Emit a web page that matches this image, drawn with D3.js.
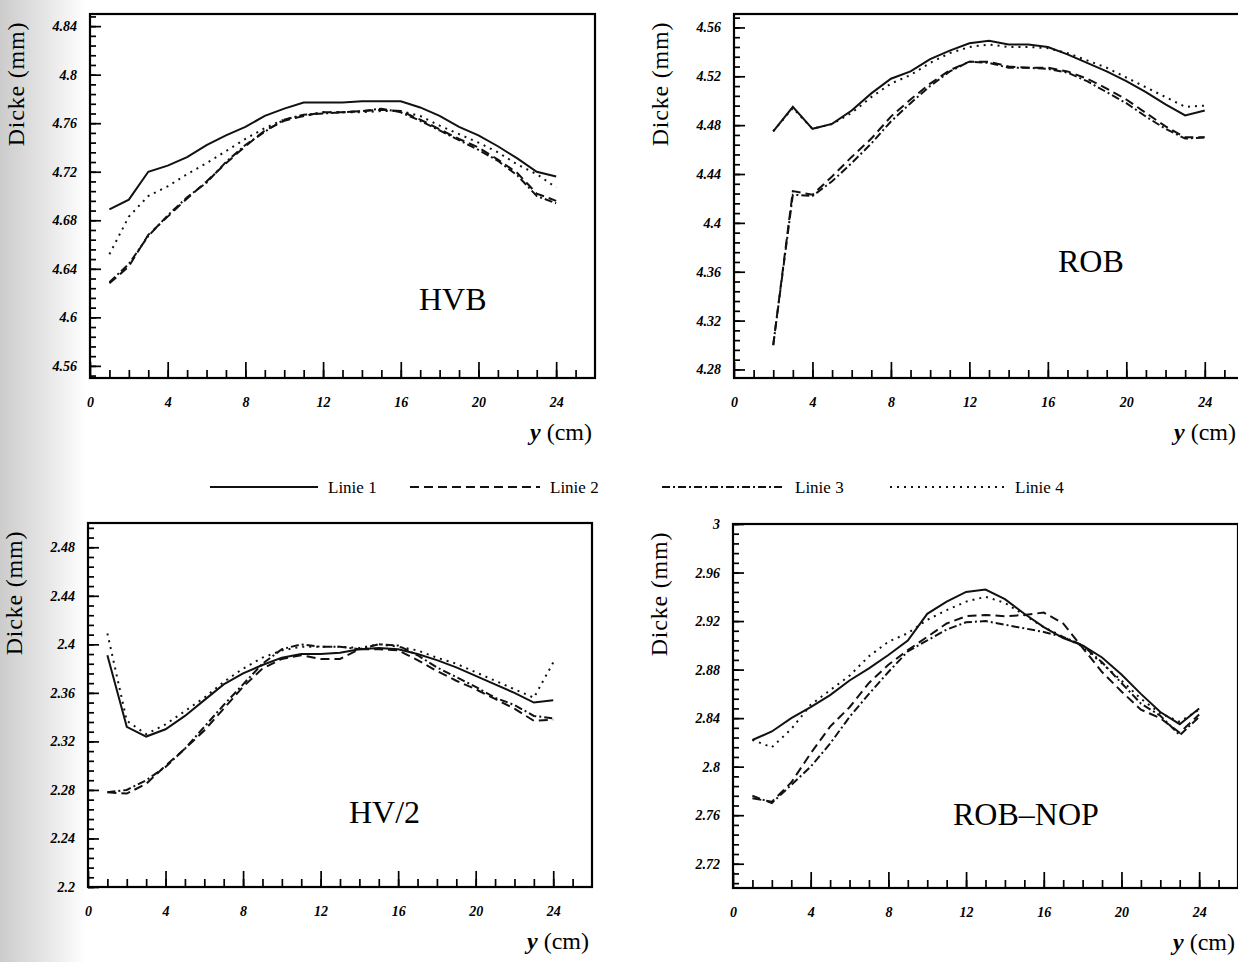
<!DOCTYPE html>
<html>
<head>
<meta charset="utf-8">
<script src="https://cdn.jsdelivr.net/npm/d3@7"></script>
<style>
  body { margin: 0; background: #fff; }
  svg { display: block; }
</style>
</head>
<body>
<svg id="chart" width="1238" height="962"></svg>
<script>
// x positions (cm) of the measuring points
const yPos = d3.range(1, 25);      // 1..24
const yPosRob = d3.range(2, 25);   // ROB starts at 2

// HVB
const hvbLinie1 = [4.689, 4.697, 4.720, 4.725, 4.732, 4.742, 4.750, 4.757, 4.766, 4.772, 4.777, 4.777, 4.777, 4.778, 4.778, 4.778, 4.773, 4.766, 4.757, 4.750, 4.741, 4.731, 4.720, 4.716];
const hvbLinie2 = [4.628, 4.642, 4.668, 4.683, 4.698, 4.712, 4.727, 4.741, 4.754, 4.762, 4.766, 4.769, 4.769, 4.770, 4.771, 4.770, 4.763, 4.755, 4.747, 4.740, 4.730, 4.719, 4.702, 4.696];
const hvbLinie3 = [4.629, 4.644, 4.667, 4.684, 4.699, 4.711, 4.728, 4.742, 4.753, 4.763, 4.767, 4.768, 4.769, 4.770, 4.772, 4.769, 4.762, 4.754, 4.746, 4.738, 4.729, 4.717, 4.700, 4.694];
const hvbLinie4 = [4.652, 4.683, 4.700, 4.708, 4.718, 4.727, 4.737, 4.747, 4.756, 4.763, 4.766, 4.769, 4.769, 4.769, 4.770, 4.770, 4.766, 4.758, 4.751, 4.744, 4.736, 4.726, 4.718, 4.707];

// ROB
const robLinie1 = [4.475, 4.495, 4.477, 4.481, 4.492, 4.506, 4.518, 4.524, 4.534, 4.541, 4.547, 4.549, 4.546, 4.546, 4.544, 4.538, 4.531, 4.524, 4.516, 4.507, 4.497, 4.488, 4.492];
const robLinie2 = [4.300, 4.426, 4.423, 4.438, 4.454, 4.469, 4.487, 4.501, 4.514, 4.525, 4.532, 4.532, 4.528, 4.527, 4.527, 4.524, 4.518, 4.510, 4.501, 4.490, 4.479, 4.470, 4.470];
const robLinie3 = [4.300, 4.423, 4.422, 4.434, 4.449, 4.465, 4.483, 4.498, 4.512, 4.524, 4.532, 4.531, 4.527, 4.527, 4.526, 4.523, 4.516, 4.507, 4.498, 4.487, 4.477, 4.469, 4.470];
const robLinie4 = [4.475, 4.494, 4.477, 4.481, 4.490, 4.503, 4.514, 4.521, 4.531, 4.539, 4.544, 4.546, 4.544, 4.544, 4.543, 4.539, 4.533, 4.527, 4.519, 4.511, 4.503, 4.495, 4.496];

// HV/2
const hv2Linie1 = [2.391, 2.332, 2.324, 2.330, 2.341, 2.354, 2.367, 2.376, 2.383, 2.389, 2.392, 2.392, 2.393, 2.396, 2.397, 2.396, 2.392, 2.387, 2.381, 2.374, 2.367, 2.360, 2.352, 2.354];
const hv2Linie2 = [2.278, 2.277, 2.285, 2.300, 2.314, 2.329, 2.347, 2.365, 2.380, 2.388, 2.391, 2.388, 2.388, 2.396, 2.396, 2.395, 2.387, 2.378, 2.370, 2.363, 2.355, 2.347, 2.337, 2.338];
const hv2Linie3 = [2.278, 2.280, 2.288, 2.299, 2.314, 2.332, 2.350, 2.367, 2.384, 2.396, 2.400, 2.398, 2.398, 2.396, 2.400, 2.399, 2.391, 2.381, 2.373, 2.365, 2.356, 2.350, 2.341, 2.339];
const hv2Linie4 = [2.409, 2.337, 2.326, 2.334, 2.345, 2.356, 2.369, 2.380, 2.389, 2.395, 2.398, 2.398, 2.398, 2.397, 2.400, 2.398, 2.395, 2.389, 2.384, 2.377, 2.370, 2.363, 2.356, 2.385];

// ROB-NOP
const nopLinie1 = [2.822, 2.829, 2.840, 2.849, 2.859, 2.871, 2.881, 2.892, 2.904, 2.926, 2.936, 2.944, 2.946, 2.938, 2.926, 2.915, 2.906, 2.900, 2.890, 2.876, 2.860, 2.845, 2.835, 2.848];
const nopLinie2 = [2.774, 2.771, 2.787, 2.811, 2.833, 2.849, 2.869, 2.884, 2.896, 2.907, 2.918, 2.924, 2.925, 2.924, 2.925, 2.927, 2.918, 2.898, 2.878, 2.862, 2.847, 2.840, 2.828, 2.843];
const nopLinie3 = [2.776, 2.770, 2.785, 2.800, 2.819, 2.841, 2.860, 2.878, 2.895, 2.904, 2.913, 2.919, 2.920, 2.917, 2.914, 2.911, 2.907, 2.900, 2.886, 2.869, 2.852, 2.842, 2.826, 2.841];
const nopLinie4 = [2.822, 2.816, 2.831, 2.851, 2.863, 2.875, 2.891, 2.903, 2.910, 2.921, 2.929, 2.936, 2.940, 2.935, 2.925, 2.915, 2.907, 2.899, 2.885, 2.871, 2.856, 2.844, 2.837, 2.847];

const legendNames = ['Linie 1', 'Linie 2', 'Linie 3', 'Linie 4'];
const xTicksMajor = [0, 4, 8, 12, 16, 20, 24];
const xTicksMinor = d3.range(1, 26);

// dash styles for the four lines
const dashes = [null, '9,5', '8,3,2,3', '2,5'];

const svg = d3.select('#chart');
const serif = '"Liberation Serif", "Times New Roman", serif';

// light scan shading on the left border
const defs = svg.append('defs');
const grad = defs.append('linearGradient').attr('id', 'scan').attr('x1', 0).attr('x2', 1);
grad.append('stop').attr('offset', '0%').attr('stop-color', '#cccccc');
grad.append('stop').attr('offset', '50%').attr('stop-color', '#e4e4e4');
grad.append('stop').attr('offset', '100%').attr('stop-color', '#ffffff');
svg.append('rect').attr('x', 0).attr('y', 0).attr('width', 86).attr('height', 962).attr('fill', 'url(#scan)');

const panels = [
  { left: 90, top: 14, width: 505, height: 364, yDomain: [4.55, 4.85], yMajor0: 4.56, xs: yPos,
    lines: [hvbLinie1, hvbLinie2, hvbLinie3, hvbLinie4], name: 'HVB', nameX: 419, nameY: 310 },
  { left: 734, top: 14, width: 510, height: 364, yDomain: [4.273, 4.571], yMajor0: 4.28, xs: yPosRob,
    lines: [robLinie1, robLinie2, robLinie3, robLinie4], name: 'ROB', nameX: 1058, nameY: 272 },
  { left: 88, top: 523, width: 504, height: 364, yDomain: [2.2, 2.5], yMajor0: 2.2, xs: yPos,
    lines: [hv2Linie1, hv2Linie2, hv2Linie3, hv2Linie4], name: 'HV/2', nameX: 349, nameY: 823 },
  { left: 733, top: 524, width: 505, height: 364, yDomain: [2.7, 3.0], yMajor0: 2.72, xs: yPos,
    lines: [nopLinie1, nopLinie2, nopLinie3, nopLinie4], name: 'ROB\u2013NOP', nameX: 953, nameY: 825 }
];

panels.forEach(drawPanel);

function drawPanel(p) {
  const g = svg.append('g').attr('transform', `translate(${p.left},${p.top})`);
  const x = d3.scaleLinear().domain([0, 26]).range([0, p.width]);
  const y = d3.scaleLinear().domain(p.yDomain).range([p.height, 0]);

  // y ticks: majors every 0.04, minors every 0.008
  const yMajor = d3.range(0, 8).map(i => +(p.yMajor0 + i * 0.04).toFixed(3)).filter(v => v <= p.yDomain[1] + 1e-9);
  const yMinor = d3.range(-5, 45).map(i => +(p.yMajor0 + i * 0.008).toFixed(4))
    .filter(v => v >= p.yDomain[0] && v <= p.yDomain[1]);

  g.append('g')
    .call(d3.axisLeft(y).tickValues(yMinor).tickSize(-6).tickFormat(''))
    .call(s => s.select('.domain').remove());
  g.append('g')
    .call(d3.axisLeft(y).tickValues(yMajor).tickSize(-11).tickPadding(13).tickFormat(d => String(+d.toFixed(2))))
    .call(s => s.select('.domain').remove());

  g.append('g').attr('transform', `translate(0,${p.height})`)
    .call(d3.axisBottom(x).tickValues(xTicksMinor).tickSize(-8).tickFormat(''))
    .call(s => s.select('.domain').remove());
  g.append('g').attr('transform', `translate(0,${p.height})`)
    .call(d3.axisBottom(x).tickValues(xTicksMajor).tickSize(-16).tickPadding(19).tickFormat(d3.format('d')))
    .call(s => s.select('.domain').remove());

  g.selectAll('.tick line').attr('stroke', '#000').attr('stroke-width', 1.7);
  g.selectAll('.tick text')
    .attr('font-family', serif)
    .attr('font-size', 14)
    .attr('font-weight', 'bold')
    .attr('font-style', 'italic')
    .attr('fill', '#000');

  // frame
  g.append('rect')
    .attr('x', 0).attr('y', 0)
    .attr('width', p.width).attr('height', p.height)
    .attr('fill', 'none').attr('stroke', '#000').attr('stroke-width', 2.2);

  const line = d3.line().x((d, i) => x(p.xs[i])).y(d => y(d));
  p.lines.forEach((vals, k) => {
    g.append('path')
      .datum(vals)
      .attr('d', line)
      .attr('fill', 'none')
      .attr('stroke', '#111')
      .attr('stroke-width', 2)
      .attr('stroke-dasharray', dashes[k]);
  });

  // panel name
  svg.append('text')
    .attr('x', p.nameX).attr('y', p.nameY)
    .attr('font-family', serif).attr('font-size', 32)
    .text(p.name);

  // y axis title
  svg.append('text')
    .attr('transform', `translate(${p.left - 66},${p.top + 70}) rotate(-90)`)
    .attr('text-anchor', 'middle')
    .attr('font-family', serif).attr('font-size', 24)
    .attr('letter-spacing', 0.8)
    .text('Dicke (mm)');

  // x axis title
  const xt = svg.append('text')
    .attr('x', Math.min(p.left + p.width - 3, 1236)).attr('y', p.top + p.height + 62)
    .attr('text-anchor', 'end')
    .attr('font-family', serif).attr('font-size', 24);
  xt.append('tspan').attr('font-style', 'italic').attr('font-weight', 'bold').text('y');
  xt.append('tspan').text(' (cm)');
}

// legend between the rows
const legendX = [210, 410, 662, 890];
const legendLen = [108, 130, 123, 115];
const legend = svg.append('g');
legendNames.forEach((name, k) => {
  legend.append('line')
    .attr('x1', legendX[k]).attr('x2', legendX[k] + legendLen[k])
    .attr('y1', 487).attr('y2', 487)
    .attr('stroke', '#111').attr('stroke-width', 1.8)
    .attr('stroke-dasharray', dashes[k]);
  legend.append('text')
    .attr('x', legendX[k] + legendLen[k] + 10).attr('y', 493)
    .attr('font-family', serif).attr('font-size', 17)
    .text(name);
});
</script>
</body>
</html>
